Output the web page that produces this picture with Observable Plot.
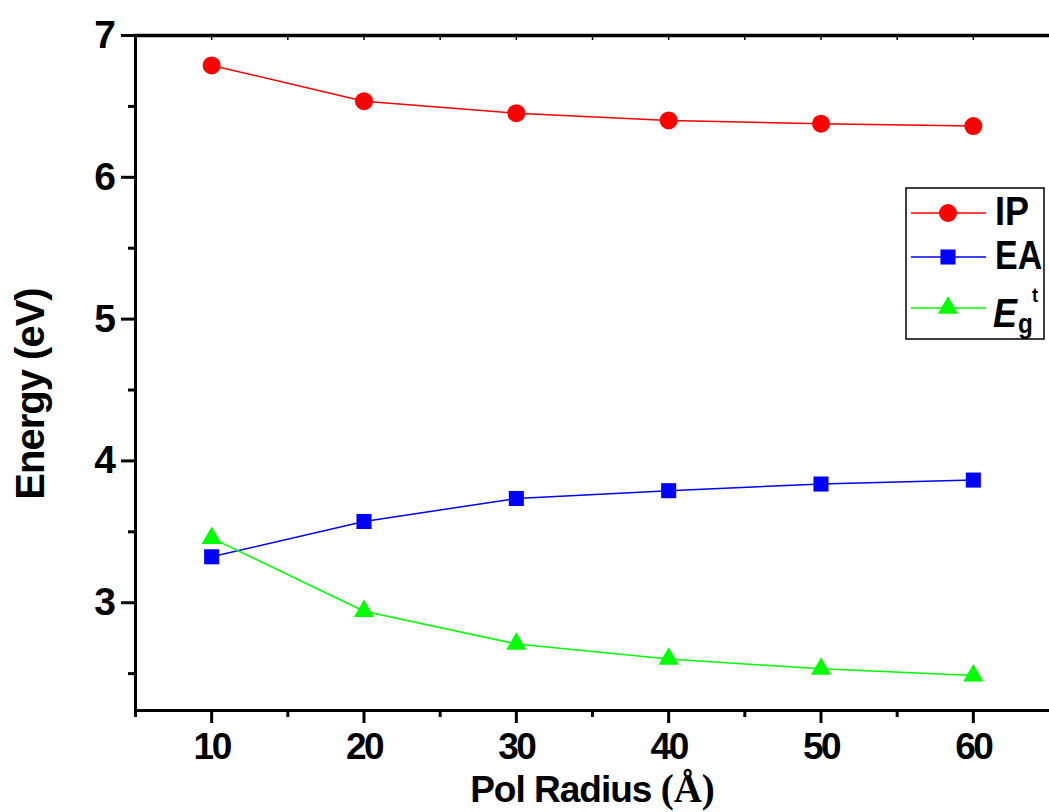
<!DOCTYPE html>
<html>
<head>
<meta charset="utf-8">
<script src="https://cdn.jsdelivr.net/npm/d3@7"></script>
<script src="https://cdn.jsdelivr.net/npm/@observablehq/plot@0.6"></script>
<style>
  html, body { margin: 0; padding: 0; background: #fff; }
  #wrap { position: relative; width: 1049px; height: 812px; overflow: hidden; }
  #legend { position: absolute; left: 905px; top: 187px; }
</style>
</head>
<body>
<div id="wrap"></div>
<script>
// ---- data ----
const radius = [10, 20, 30, 40, 50, 60];
const ipValues = [6.789, 6.537, 6.452, 6.401, 6.378, 6.361];
const eaValues = [3.324, 3.573, 3.735, 3.790, 3.837, 3.865];
const egValues = [3.456, 2.940, 2.709, 2.603, 2.534, 2.486];
const yMajorTicks = [3, 4, 5, 6, 7];
const yMinorTicks = [2.5, 3.5, 4.5, 5.5, 6.5];
const xMajorTicks = [10, 20, 30, 40, 50, 60];
const xMinorTicks = [5, 15, 25, 35, 45, 55];
const xTopTicks = [10, 15, 20, 25, 30, 35, 40, 45, 50, 55, 60];
const xLabel = "Pol Radius (Å)";
const yLabel = "Energy (eV)";

const series = [
  {name: "IP", values: ipValues, color: "#ff0000", symbol: "circle", r: 9},
  {name: "EA", values: eaValues, color: "#0000ff", symbol: "square", r: 8.5},
  {name: "Eg", values: egValues, color: "#00ff00", symbol: "triangle", r: 7.5}
];
const rows = series.flatMap(s => radius.map((x, i) => ({x, y: s.values[i], name: s.name})));

const FONT = "'Liberation Sans', Arial, Helvetica, sans-serif";

const lineMarks = series.map(s =>
  Plot.line(rows.filter(d => d.name === s.name), {x: "x", y: "y", stroke: s.color, strokeWidth: 1.5})
);
const dotMarks = series.map(s =>
  Plot.dot(rows.filter(d => d.name === s.name), {x: "x", y: "y", fill: s.color, stroke: "none", symbol: s.symbol, r: s.r})
);

const chart = Plot.plot({
  width: 1049,
  height: 812,
  marginLeft: 135,
  marginRight: 0,
  marginTop: 35,
  marginBottom: 102,
  x: {domain: [5, 65]},
  y: {domain: [2.24, 7]},
  style: {fontFamily: FONT, fontWeight: "bold", background: "#fff", color: "#000", overflow: "hidden"},
  marks: [
    Plot.axisY({ticks: yMajorTicks, tickSize: 14, tickPadding: 8, fontSize: 39, fontWeight: "bold", strokeWidth: 3, label: null, tickFormat: d => String(d)}),
    Plot.axisY({ticks: yMinorTicks, tickSize: 7, text: null, strokeWidth: 3, label: null}),
    Plot.axisX({ticks: xMajorTicks, tickSize: 13, tickPadding: 9, fontSize: 37, fontWeight: "bold", strokeWidth: 3, label: null, tickFormat: d => String(d)}),
    Plot.axisX({ticks: xMinorTicks, tickSize: 7, text: null, strokeWidth: 3, label: null}),
    Plot.axisX({anchor: "top", ticks: xTopTicks, tickSize: -4, text: null, strokeWidth: 1.5, label: null}),
    Plot.ruleY([7], {strokeWidth: 3.5}),
    Plot.ruleX([5], {strokeWidth: 3}),
    Plot.ruleY([2.24], {strokeWidth: 3}),
    ...lineMarks,
    ...dotMarks,
    Plot.text([xLabel], {text: d => d, frameAnchor: "bottom", lineAnchor: "bottom", textAnchor: "middle", dy: 91, fontSize: 37, fontWeight: "bold"}),
    Plot.text([yLabel], {text: d => d, frameAnchor: "left", lineAnchor: "bottom", textAnchor: "middle", rotate: -90, dx: -92, dy: 21, fontSize: 40, fontWeight: "bold"})
  ]
});

// mix fonts in x label: "(Å)" in serif as in the original; condense tick labels slightly
chart.querySelectorAll("text").forEach(t => {
  if (t.textContent === xLabel) {
    t.textContent = "";
    const ns = "http://www.w3.org/2000/svg";
    const a = document.createElementNS(ns, "tspan");
    a.textContent = "Pol Radius ";
    a.setAttribute("letter-spacing", "-1");
    const b = document.createElementNS(ns, "tspan");
    b.textContent = "(Å)";
    b.setAttribute("font-family", "'Liberation Serif', 'Times New Roman', serif");
    b.setAttribute("font-size", "39");
    t.appendChild(a);
    t.appendChild(b);
  } else if (t.textContent === yLabel) {
    t.setAttribute("letter-spacing", "-1");
  } else if (/^\d+$/.test(t.textContent)) {
    t.setAttribute("letter-spacing", "-2.5");
  }
});

const wrap = document.getElementById("wrap");
wrap.appendChild(chart);

// ---- legend ----
const legendRows = [
  {s: series[0], y: 26},
  {s: series[1], y: 70},
  {s: series[2], y: 121}
];
const lg = d3.create("svg").attr("id", "legend").attr("width", 141).attr("height", 154)
  .style("font-family", FONT).style("font-weight", "bold");
lg.append("rect").attr("x", 1).attr("y", 1).attr("width", 138).attr("height", 151)
  .attr("fill", "#fff").attr("stroke", "#000").attr("stroke-width", 1.5);
legendRows.forEach(({s, y}) => {
  lg.append("line").attr("x1", 6).attr("x2", 81).attr("y1", y).attr("y2", y)
    .attr("stroke", s.color).attr("stroke-width", 1.5);
  const sym = s.symbol === "circle" ? d3.symbolCircle : s.symbol === "square" ? d3.symbolSquare : d3.symbolTriangle;
  lg.append("path").attr("d", d3.symbol(sym, Math.PI * s.r * s.r)())
    .attr("transform", `translate(43,${y})`).attr("fill", s.color);
});
lg.append("text").attr("transform", "translate(90,38) scale(0.9,1)").attr("font-size", 40).text("IP");
lg.append("text").attr("transform", "translate(90,82) scale(0.85,1)").attr("font-size", 40).text("EA");
lg.append("text").attr("transform", "translate(88,140) scale(0.9,1)").attr("font-size", 40).attr("font-style", "italic").text("E");
lg.append("text").attr("transform", "translate(113,146) scale(0.9,1)").attr("font-size", 27).text("g");
lg.append("text").attr("transform", "translate(127,115) scale(0.9,1)").attr("font-size", 20).text("t");
wrap.appendChild(lg.node());
</script>
</body>
</html>
